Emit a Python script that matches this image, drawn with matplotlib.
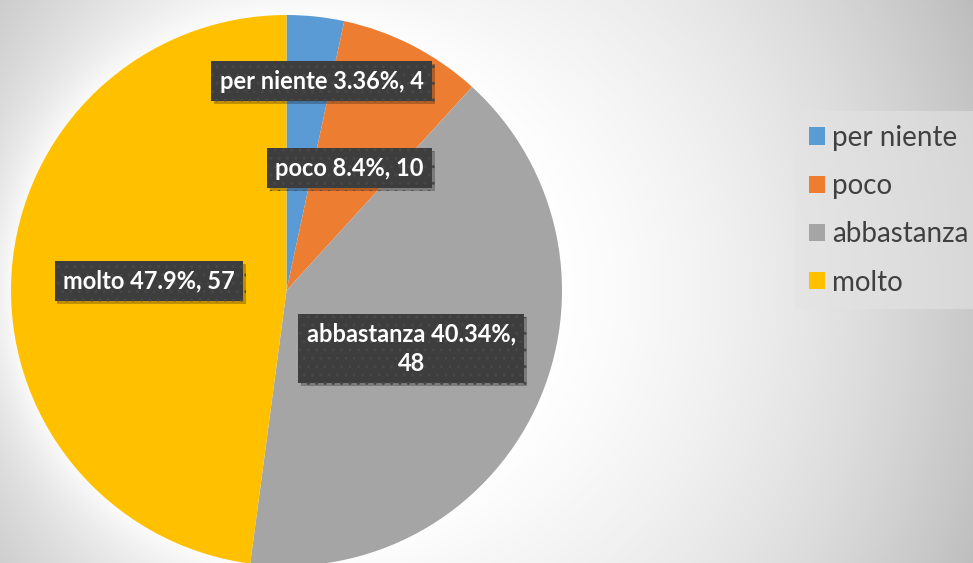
import numpy as np
import matplotlib
matplotlib.use('Agg')
import matplotlib.pyplot as plt
from matplotlib import patheffects
from matplotlib.patches import Patch

# data
categories = ['per niente', 'poco', 'abbastanza', 'molto']
counts = [4, 10, 48, 57]
colours = ['#5B9BD5', '#ED7D31', '#A5A5A5', '#FFC000']
label_dist = [0.77, 0.5, 0.5, 0.5]
label_turn = [3.5, 0, 0, 0]  # extra angle (deg) to nudge a label off the mid line

plt.rcParams['font.family'] = ['Lato', 'DejaVu Sans']

W, H = 973, 563
fig = plt.figure(figsize=(W / 100, H / 100), dpi=100)

# pie geometry in pixels
cx, cy, rad = 286.5, 290.5, 275.5

# background: soft grey gradient with a white glow round the pie
bg = fig.add_axes((0, 0, 1, 1))
yy, xx = np.mgrid[0:H, 0:W]
r2 = ((xx - 450) / 560.) ** 2 + ((yy - 290) / 650.) ** 2
val = 255 - 62 * r2
d_edge = np.sqrt((xx - cx) ** 2 + (yy - cy) ** 2) - rad
glow = np.exp(-np.clip(d_edge, 0, None) / 45.)
val = val + (255 - val) * glow * 0.85
img = np.clip(val, 0, 255) / 255.
bg.imshow(np.dstack([img, img, img]), extent=(0, W, H, 0), aspect='auto')
bg.set_axis_off()

# pie
ax = fig.add_axes(((cx - rad) / W, (H - cy - rad) / H, 2 * rad / W, 2 * rad / H))
wedges, _ = ax.pie(counts, colors=colours, startangle=90, counterclock=False,
                   radius=1, wedgeprops=dict(linewidth=0))
ax.set_xlim(-1, 1)
ax.set_ylim(-1, 1)
ax.set_axis_off()

total = sum(counts)
cum = 0
for name, n, dist, turn in zip(categories, counts, label_dist, label_turn):
    mid = (cum + n / 2) / total * 2 * np.pi + np.radians(turn)
    cum += n
    pct = round(n / total * 100, 2)
    text = f'{name} {pct:g}%, {n}'
    if name == 'abbastanza':
        text = f'{name} {pct:g}%,\n{n}'
    t = ax.text(dist * np.sin(mid), dist * np.cos(mid), text,
                ha='center', va='center', color='white', fontsize=17,
                fontweight='bold', linespacing=1.35,
                bbox=dict(boxstyle='square,pad=0.36', facecolor='#3d3d3d',
                          edgecolor='#474747', linewidth=0, hatch='..'))
    t.get_bbox_patch().set_path_effects([
        patheffects.SimplePatchShadow(offset=(2, -2), shadow_rgbFace='black',
                                      alpha=0.25),
        patheffects.Normal()])

# legend
handles = [Patch(facecolor=c, edgecolor='none') for c in colours]
leg = fig.legend(handles, categories, loc='upper left',
                 bbox_to_anchor=(795 / W, 1 - 111 / H), fontsize=20,
                 frameon=True, fancybox=False, handlelength=0.58,
                 handleheight=0.58, handletextpad=0.25, labelspacing=0.8,
                 borderpad=0.5, borderaxespad=0)
leg.get_frame().set_facecolor('#e3e3e3')
leg.get_frame().set_alpha(0.6)
leg.get_frame().set_linewidth(0)
for txt in leg.get_texts():
    txt.set_color('#404040')

fig.savefig('out.png', dpi=100)
